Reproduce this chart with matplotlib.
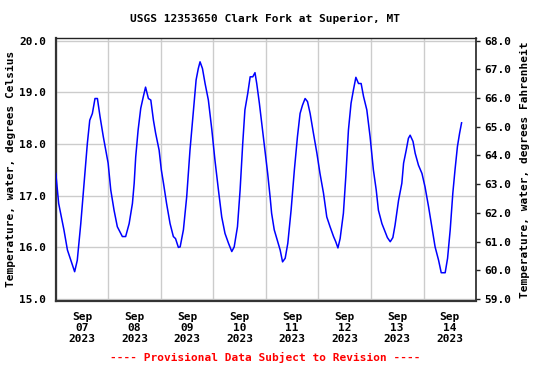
import matplotlib
matplotlib.use("Agg")
import matplotlib.pyplot as plt
import numpy as np

# ---- data (hours since 2023-09-07 00:00, water temperature in deg C) ----
hours = [0.0, 1.3, 3.7, 5.3, 7.6, 8.6, 9.8, 11.4, 12.9, 14.4, 15.5, 16.7, 17.9, 19.0,
         20.2, 21.7, 22.8, 23.9, 25.1, 26.6, 28.1, 29.3, 30.4, 31.9, 33.5, 35.0, 35.8,
         36.5, 37.6, 38.8, 40.0, 41.0, 42.3, 43.4, 44.6, 45.6, 47.2, 48.2, 49.2, 50.6,
         52.2, 53.7, 54.7, 56.0, 56.8, 58.3, 59.8, 61.3, 62.9, 64.1, 65.1, 65.9, 67.0,
         68.2, 69.7, 71.3, 72.7, 74.3, 75.8, 77.3, 78.9, 80.4, 81.5, 83.0, 84.2, 85.4,
         86.4, 87.7, 88.8, 90.0, 91.0, 91.8, 93.0, 94.1, 95.6, 96.8, 97.9, 98.6, 99.8,
         101.0, 102.5, 103.6, 104.8, 106.0, 107.5, 109.0, 110.4, 111.6, 112.7, 113.9,
         115.0, 116.2, 117.7, 119.3, 120.7, 122.3, 123.8, 125.3, 126.9, 127.9, 128.9,
         129.9, 131.4, 132.5, 133.7, 134.9, 136.0, 137.1, 138.3, 139.5, 140.6, 142.1,
         143.6, 145.1, 146.4, 147.4, 149.0, 150.5, 151.5, 152.8, 154.0, 155.0, 156.6,
         158.1, 158.9, 160.1, 161.1, 161.9, 163.2, 164.2, 165.7, 167.3, 168.7, 170.3,
         171.8, 173.3, 174.9, 176.1, 177.9, 179.0, 180.2, 181.4, 182.4, 183.5, 184.5,
         185.4]
temp_c = [17.43, 16.85, 16.34, 15.95, 15.66, 15.53, 15.75, 16.46, 17.24, 18.01, 18.46,
          18.59, 18.88, 18.88, 18.53, 18.14, 17.88, 17.63, 17.11, 16.72, 16.40, 16.30,
          16.21, 16.21, 16.46, 16.85, 17.24, 17.75, 18.27, 18.69, 18.92, 19.10, 18.88,
          18.85, 18.46, 18.21, 17.88, 17.50, 17.24, 16.85, 16.46, 16.21, 16.17, 16.00,
          16.01, 16.34, 16.98, 17.88, 18.66, 19.24, 19.46, 19.59, 19.46, 19.17, 18.85,
          18.27, 17.69, 17.11, 16.59, 16.27, 16.08, 15.92, 16.01, 16.40, 17.11, 18.01,
          18.66, 18.98, 19.30, 19.30, 19.38, 19.17, 18.79, 18.40, 17.88, 17.43, 16.98,
          16.66, 16.34, 16.17, 15.95, 15.72, 15.79, 16.08, 16.72, 17.50, 18.14, 18.59,
          18.75, 18.88, 18.82, 18.59, 18.21, 17.82, 17.43, 17.05, 16.59, 16.40, 16.21,
          16.11, 15.99, 16.17, 16.66, 17.37, 18.27, 18.79, 19.05, 19.29, 19.17, 19.17,
          18.92, 18.66, 18.14, 17.50, 17.11, 16.72, 16.46, 16.30, 16.19, 16.11, 16.19,
          16.43, 16.91, 17.24, 17.63, 17.88, 18.11, 18.17, 18.05, 17.82, 17.59, 17.43,
          17.17, 16.79, 16.40, 16.01, 15.75, 15.51, 15.51, 15.79, 16.34, 17.05, 17.50,
          17.95, 18.21, 18.41]

day_labels = ["Sep\n07\n2023", "Sep\n08\n2023", "Sep\n09\n2023", "Sep\n10\n2023",
              "Sep\n11\n2023", "Sep\n12\n2023", "Sep\n13\n2023", "Sep\n14\n2023"]
c_ticks = [15.0, 16.0, 17.0, 18.0, 19.0, 20.0]
f_ticks = [59.0, 60.0, 61.0, 62.0, 63.0, 64.0, 65.0, 66.0, 67.0, 68.0]

title = "USGS 12353650 Clark Fork at Superior, MT"
note = "---- Provisional Data Subject to Revision ----"

FONT = "DejaVu Sans Mono"
FS = 8

fig = plt.figure(figsize=(5.5, 3.67), dpi=100)
fig.patch.set_facecolor("white")
ax = fig.add_axes([0.1015, 0.1798, 0.7640, 0.7180])

ax.plot(hours, temp_c, color="#0000ff", linewidth=1.1, zorder=3)

ymin, ymax = 14.963, 20.06
ax.set_ylim(ymin, ymax)
ax.set_xlim(0, 192)

# gridlines at midnight, labels at noon
ax.set_xticks(np.arange(0, 193, 24), minor=True)
ax.set_xticks(np.arange(12, 192, 24))
ax.set_xticklabels(day_labels, fontfamily=FONT, fontweight="bold", fontsize=FS,
                   linespacing=1.12)
ax.tick_params(axis="x", which="major", length=0, pad=8)
ax.tick_params(axis="x", which="minor", length=0)
ax.grid(True, axis="x", which="minor", color="#cccccc", linewidth=1.0)
ax.grid(False, axis="x", which="major")

ax.set_yticks(c_ticks)
ax.set_yticklabels([f"{v:.1f}" for v in c_ticks], fontfamily=FONT,
                   fontweight="bold", fontsize=FS)
ax.tick_params(axis="y", length=0, pad=7)
ax.grid(True, axis="y", color="#cccccc", linewidth=1.0)
ax.set_axisbelow(True)

for s in ["left", "bottom"]:
    ax.spines[s].set_linewidth(1.6)
    ax.spines[s].set_color("#333333")
ax.spines["top"].set_linewidth(1.0)
ax.spines["top"].set_color("#222222")
ax.spines["right"].set_linewidth(1.2)
ax.spines["right"].set_color("#222222")

ax.set_ylabel("Temperature, water, degrees Celsius", fontfamily=FONT,
              fontweight="bold", fontsize=FS, labelpad=2)

ax2 = ax.twinx()
ax2.set_ylim(ymin * 1.8 + 32, ymax * 1.8 + 32)
ax2.set_yticks(f_ticks)
ax2.set_yticklabels([f"{v:.1f}" for v in f_ticks], fontfamily=FONT,
                    fontweight="bold", fontsize=FS)
ax2.tick_params(axis="y", length=3, width=1.0, pad=3, color="#222222")
ax2.set_ylabel("Temperature, water, degrees Fahrenheit", fontfamily=FONT,
               fontweight="bold", fontsize=FS, labelpad=6)
for s in ax2.spines.values():
    s.set_visible(False)

fig.text(0.482, 0.948, title, ha="center", va="center", fontfamily=FONT,
         fontweight="bold", fontsize=FS)
fig.text(0.482, 0.025, note, ha="center", va="center", fontfamily=FONT,
         fontweight="bold", fontsize=FS, color="#ff0000")

fig.savefig("out.png", dpi=100, facecolor="white")
